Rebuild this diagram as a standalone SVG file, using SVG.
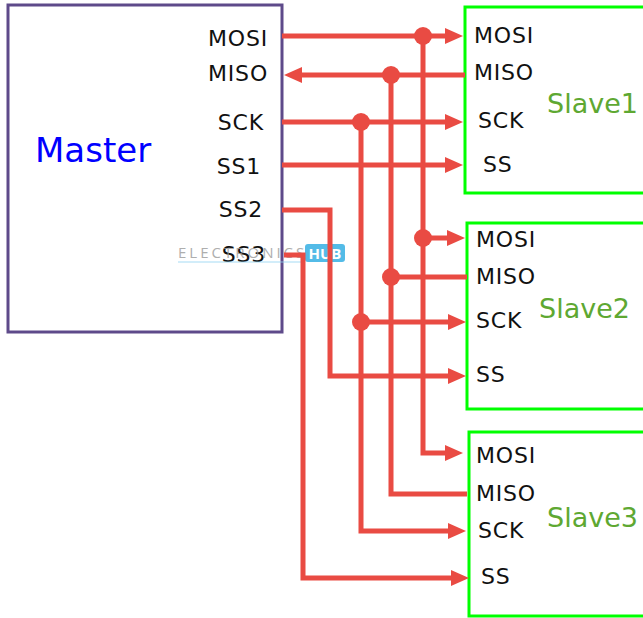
<svg xmlns="http://www.w3.org/2000/svg" width="643" height="618" viewBox="0 0 643 618">
<defs>
<style>
.box{fill:#fff;stroke-width:3}
.master{stroke:#5e4a8a}
.slave{stroke:#00ff00}
.pin{font-family:"DejaVu Sans",Verdana,sans-serif;font-size:22px;fill:#111;letter-spacing:0.8px}
.title{font-family:"DejaVu Sans",Verdana,sans-serif}
.w{fill:none;stroke:#e94b43;stroke-width:5}
.dot{fill:#e94b43}
</style>
<marker id="ah" markerUnits="userSpaceOnUse" markerWidth="18" markerHeight="16" refX="11" refY="8" orient="auto">
<path d="M0,0 L18,8 L0,16 z" fill="#e94b43"/>
</marker>
</defs>
<rect width="643" height="618" fill="#fff"/>

<g id="master">
<rect class="box master" x="8" y="5" width="274" height="327"/>
<text class="title" x="35" y="162" font-size="34" fill="#0000ff">Master</text>
<text class="pin" x="268" y="46" text-anchor="end">MOSI</text>
<text class="pin" x="268" y="81" text-anchor="end">MISO</text>
<text class="pin" x="264" y="130" text-anchor="end">SCK</text>
<text class="pin" x="261" y="174" text-anchor="end">SS1</text>
<text class="pin" x="263" y="217" text-anchor="end">SS2</text>
<text class="pin" x="266" y="262" text-anchor="end">SS3</text>
</g>

<g id="slave1">
<rect class="box slave" x="465" y="7" width="182" height="186"/>
<text class="title" x="547" y="113" font-size="27" fill="#5ea832">Slave1</text>
<text class="pin" x="474" y="43">MOSI</text>
<text class="pin" x="474" y="80">MISO</text>
<text class="pin" x="478" y="128">SCK</text>
<text class="pin" x="483" y="172">SS</text>
</g>

<g id="slave2">
<rect class="box slave" x="467" y="223" width="180" height="186"/>
<text class="title" x="539" y="318" font-size="27" fill="#5ea832">Slave2</text>
<text class="pin" x="476" y="247">MOSI</text>
<text class="pin" x="476" y="284">MISO</text>
<text class="pin" x="476" y="328">SCK</text>
<text class="pin" x="476" y="382">SS</text>
</g>

<g id="slave3">
<rect class="box slave" x="469" y="432" width="180" height="184"/>
<text class="title" x="547" y="527" font-size="27" fill="#5ea832">Slave3</text>
<text class="pin" x="476" y="463">MOSI</text>
<text class="pin" x="476" y="501">MISO</text>
<text class="pin" x="478" y="538">SCK</text>
<text class="pin" x="481" y="584">SS</text>
</g>

<g id="watermark" opacity="0.8">
<text x="178" y="258" font-family="'Open Sans',sans-serif" font-size="15" fill="#9a9a9a" letter-spacing="3">ELECTRONICS</text>
<line x1="178" y1="262" x2="305" y2="262" stroke="#8fd3f2" stroke-width="1"/>
<rect x="305" y="244" width="40" height="18" rx="3" fill="#29abe2"/>
<text x="325" y="259" text-anchor="middle" font-family="'Open Sans',sans-serif" font-size="15" font-weight="bold" fill="#fff">HUB</text>
</g>

<g id="connectors">
<!-- MOSI -->
<path class="w" d="M282,36 H456" marker-end="url(#ah)"/>
<path class="w" d="M423,36 V453 H456" marker-end="url(#ah)"/>
<path class="w" d="M423,238 H458" marker-end="url(#ah)"/>
<circle class="dot" cx="423" cy="36" r="9"/>
<circle class="dot" cx="423" cy="238" r="9"/>
<!-- MISO -->
<path class="w" d="M465,75 H291" marker-end="url(#ah)"/>
<path class="w" d="M391,75 V494 H467"/>
<path class="w" d="M391,277 H467"/>
<circle class="dot" cx="391" cy="75" r="9"/>
<circle class="dot" cx="391" cy="277" r="9"/>
<!-- SCK -->
<path class="w" d="M282,122 H456" marker-end="url(#ah)"/>
<path class="w" d="M361,122 V531 H459" marker-end="url(#ah)"/>
<path class="w" d="M361,322 H459" marker-end="url(#ah)"/>
<circle class="dot" cx="361" cy="122" r="9"/>
<circle class="dot" cx="361" cy="322" r="9"/>
<!-- SS1 -->
<path class="w" d="M282,165 H456" marker-end="url(#ah)"/>
<!-- SS2 -->
<path class="w" d="M282,210 H330 V376 H459" marker-end="url(#ah)"/>
<!-- SS3 -->
<path class="w" d="M284,255 H303 V578 H462" marker-end="url(#ah)"/>
</g>
</svg>
